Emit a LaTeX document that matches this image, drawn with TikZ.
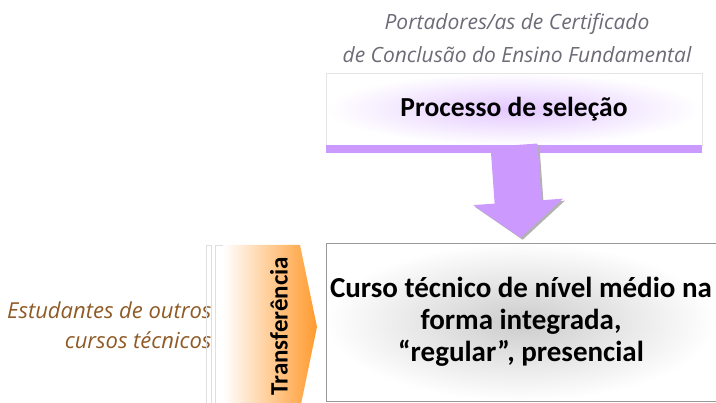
\documentclass[tikz,border=0pt]{standalone}
\usepackage{fontspec}
\setmainfont{Carlito}
\newfontfamily\notefont{Open Sans}
\usetikzlibrary{arrows.meta}
\definecolor{lilac}{HTML}{CC99FF}
\definecolor{notegray}{HTML}{6E6A76}
\definecolor{notebrown}{HTML}{8F5A26}
\definecolor{transorange}{HTML}{FF9A2E}
\tikzset{
  note/.style={font=\notefont\itshape\fontsize{21}{33}\selectfont, align=center},
  procbox/.style={minimum width=376pt, minimum height=72pt, draw=gray!20,
    inner color=lilac!55, outer color=white,
    font=\bfseries\fontsize{27.5}{30}\selectfont},
  coursebox/.style={minimum width=390pt, minimum height=158pt, draw=gray!80,
    inner color=gray!40, outer color=white, align=center,
    font=\bfseries\fontsize{29}{32}\selectfont},
  fatarrow/.style={line width=47pt, -{Triangle[width=88pt,length=36pt]},
    shorten >=5pt}
}
\begin{document}
\begin{tikzpicture}[x=1pt,y=-1pt]
  \useasboundingbox (0,0) rectangle (716,403);
  % texts around the boxes
  \node[note, text=notegray] (holders) at (517,38)
    {Portadores/as de Certificado\\de Conclusão do Ensino Fundamental};
  \node[note, text=notebrown, align=right, anchor=east,
    font=\notefont\itshape\fontsize{22}{30}\selectfont] (others) at (215,325)
    {Estudantes de outros\\cursos técnicos};
  % boxes
  \node[procbox] (proc) at (514,109) {Processo de seleção};
  \fill[lilac] (proc.south west) rectangle ([yshift=-8pt]proc.south east);
  \node[coursebox] (course) at (521,322)
    {Curso técnico de nível médio na\\forma integrada,\\“regular”, presencial};
  % transfer chevron
  \draw[gray!25] (206,245) rectangle (211,409);
  \draw[gray!25] (215,245) rectangle (223,409);
  \path[left color=white, right color=transorange]
    (223,245) -- (300,245) -- (317,327) -- (300,409) -- (223,409) -- cycle;
  \node[rotate=90, font=\bfseries\fontsize{25}{28}\selectfont] (transfer)
    at (279,326) {Transferência};
  % selection arrow
  \begin{scope}[fatarrow]
    \draw[gray!60, transform canvas={shift={(2pt,-2pt)}}] (proc.south) -- (course.north);
    \draw[lilac] (proc.south) -- (course.north);
  \end{scope}
\end{tikzpicture}
\end{document}
